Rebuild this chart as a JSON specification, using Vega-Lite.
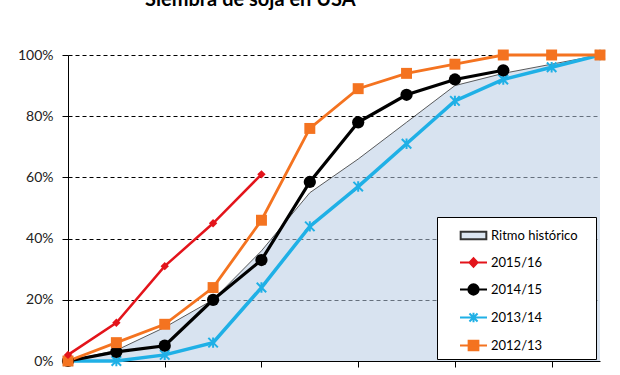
{
  "$schema": "https://vega.github.io/schema/vega-lite/v6.json",
  "width": 532,
  "height": 306,
  "autosize": {"type": "none"},
  "padding": {"left": 68, "top": 55, "right": 20, "bottom": 14},
  "background": "white",
  "title": {
    "text": "Siembra de soja en USA",
    "anchor": "start",
    "frame": "group",
    "dx": 77,
    "offset": 20,
    "baseline": "alphabetic",
    "font": "Lato",
    "fontSize": 20,
    "fontWeight": "bold",
    "color": "#000"
  },
  "config": {
    "view": {"stroke": null},
    "font": "Lato",
    "legend": {
      "orient": "none",
      "legendX": 369,
      "legendY": 162,
      "padding": 4,
      "rowPadding": 4,
      "symbolSize": 729,
      "symbolOffset": 18,
      "symbolOpacity": 1,
      "symbolStrokeWidth": 2,
      "labelOffset": 3,
      "labelFont": "Lato",
      "labelFontSize": 13,
      "labelColor": "#000",
      "titleOrient": "right",
      "titlePadding": 14,
      "strokeColor": "#000",
      "fillColor": "#fff",
      "cornerRadius": 0
    }
  },
  "data": {
    "values": [
      {"s": "Ritmo histórico", "i": 0, "v": 0},
      {"s": "Ritmo histórico", "i": 1, "v": 0.035},
      {"s": "Ritmo histórico", "i": 2, "v": 0.11},
      {"s": "Ritmo histórico", "i": 3, "v": 0.2},
      {"s": "Ritmo histórico", "i": 4, "v": 0.36},
      {"s": "Ritmo histórico", "i": 5, "v": 0.55},
      {"s": "Ritmo histórico", "i": 6, "v": 0.66},
      {"s": "Ritmo histórico", "i": 7, "v": 0.78},
      {"s": "Ritmo histórico", "i": 8, "v": 0.9},
      {"s": "Ritmo histórico", "i": 9, "v": 0.94},
      {"s": "Ritmo histórico", "i": 10, "v": 0.97},
      {"s": "Ritmo histórico", "i": 11, "v": 1.0},
      {"s": "2013/14", "i": 0, "v": 0},
      {"s": "2013/14", "i": 1, "v": 0},
      {"s": "2013/14", "i": 2, "v": 0.02},
      {"s": "2013/14", "i": 3, "v": 0.06},
      {"s": "2013/14", "i": 4, "v": 0.24},
      {"s": "2013/14", "i": 5, "v": 0.44},
      {"s": "2013/14", "i": 6, "v": 0.57},
      {"s": "2013/14", "i": 7, "v": 0.71},
      {"s": "2013/14", "i": 8, "v": 0.85},
      {"s": "2013/14", "i": 9, "v": 0.92},
      {"s": "2013/14", "i": 10, "v": 0.96},
      {"s": "2013/14", "i": 11, "v": 1.0},
      {"s": "2014/15", "i": 0, "v": 0},
      {"s": "2014/15", "i": 1, "v": 0.03},
      {"s": "2014/15", "i": 2, "v": 0.05},
      {"s": "2014/15", "i": 3, "v": 0.2},
      {"s": "2014/15", "i": 4, "v": 0.33},
      {"s": "2014/15", "i": 5, "v": 0.585},
      {"s": "2014/15", "i": 6, "v": 0.78},
      {"s": "2014/15", "i": 7, "v": 0.87},
      {"s": "2014/15", "i": 8, "v": 0.92},
      {"s": "2014/15", "i": 9, "v": 0.95},
      {"s": "2012/13", "i": 0, "v": 0},
      {"s": "2012/13", "i": 1, "v": 0.06},
      {"s": "2012/13", "i": 2, "v": 0.12},
      {"s": "2012/13", "i": 3, "v": 0.24},
      {"s": "2012/13", "i": 4, "v": 0.46},
      {"s": "2012/13", "i": 5, "v": 0.76},
      {"s": "2012/13", "i": 6, "v": 0.89},
      {"s": "2012/13", "i": 7, "v": 0.94},
      {"s": "2012/13", "i": 8, "v": 0.97},
      {"s": "2012/13", "i": 9, "v": 1.0},
      {"s": "2012/13", "i": 10, "v": 1.0},
      {"s": "2012/13", "i": 11, "v": 1.0},
      {"s": "2015/16", "i": 0, "v": 0.02},
      {"s": "2015/16", "i": 1, "v": 0.125},
      {"s": "2015/16", "i": 2, "v": 0.31},
      {"s": "2015/16", "i": 3, "v": 0.45},
      {"s": "2015/16", "i": 4, "v": 0.61}
    ]
  },
  "encoding": {
    "x": {
      "field": "i",
      "type": "quantitative",
      "scale": {"domain": [0, 11], "nice": false, "zero": false},
      "axis": {
        "title": null,
        "values": [2, 4, 6, 8, 10],
        "labels": false,
        "grid": false,
        "domainColor": "#000",
        "tickColor": "#000",
        "tickSize": 6,
        "domainWidth": 1
      }
    },
    "y": {
      "field": "v",
      "type": "quantitative",
      "scale": {"domain": [0, 1], "nice": false},
      "axis": {
        "title": null,
        "values": [0, 0.2, 0.4, 0.6, 0.8, 1],
        "format": ".0%",
        "grid": true,
        "gridDash": [4, 3],
        "gridColor": "#000",
        "gridOpacity": 1,
        "gridWidth": 1,
        "domainColor": "#000",
        "tickColor": "#000",
        "tickSize": 6,
        "labelPadding": 9,
        "labelFont": "Lato",
        "labelFontSize": 14,
        "labelColor": "#222"
      }
    }
  },
  "layer": [
    {
      "transform": [{"filter": "datum.s === 'Ritmo histórico'"}],
      "mark": {"type": "area", "color": "#b8cce4", "fillOpacity": 0.55}
    },
    {
      "transform": [{"filter": "datum.s === 'Ritmo histórico'"}],
      "mark": {"type": "line", "color": "#333", "strokeWidth": 0.8}
    },
    {
      "transform": [{"filter": "datum.s !== 'Ritmo histórico'"}],
      "mark": {"type": "line"},
      "encoding": {
        "color": {
          "field": "s",
          "type": "nominal",
          "scale": {
            "domain": ["2013/14", "2014/15", "2012/13", "2015/16"],
            "range": ["#1fb0e6", "#000000", "#f47320", "#e3141b"]
          },
          "legend": null
        },
        "strokeWidth": {
          "field": "s",
          "type": "nominal",
          "scale": {
            "domain": ["2013/14", "2014/15", "2012/13", "2015/16"],
            "range": [3.5, 2.5, 3.5, 2]
          },
          "legend": null
        }
      }
    },
    {
      "transform": [{"filter": "datum.s === '2013/14'"}],
      "mark": {"type": "point", "shape": "M-1,-1L1,1M-1,1L1,-1M0,-1.1L0,1.1", "filled": false, "stroke": "#1fb0e6", "strokeWidth": 2, "size": 90, "opacity": 1}
    },
    {
      "transform": [{"filter": "datum.s === '2014/15'"}],
      "mark": {"type": "point", "shape": "circle", "filled": true, "fill": "#000", "size": 150, "opacity": 1}
    },
    {
      "transform": [{"filter": "datum.s === '2012/13'"}],
      "mark": {"type": "point", "shape": "square", "filled": true, "fill": "#f47320", "size": 120, "opacity": 1}
    },
    {
      "transform": [{"filter": "datum.s === '2015/16'"}],
      "mark": {"type": "point", "shape": "diamond", "filled": true, "fill": "#e3141b", "size": 70, "opacity": 1}
    },
    {
      "mark": {"type": "point", "opacity": 0, "strokeWidth": 2},
      "encoding": {
        "shape": {
          "field": "s",
          "type": "nominal",
          "scale": {
            "domain": ["Ritmo histórico", "2015/16", "2014/15", "2013/14", "2012/13"],
            "range": [
              "M-0.95,-0.27H0.95V0.27H-0.95Z",
              "M-1,0H1M0,-0.32L0.3,0L0,0.32L-0.3,0Z",
              "M-1,0H1M-0.38,0A0.38,0.38 0 1,0 0.38,0A0.38,0.38 0 1,0 -0.38,0Z",
              "M-1,0H1M-0.3,-0.3L0.3,0.3M-0.3,0.3L0.3,-0.3M0,-0.36L0,0.36",
              "M-1,0H1M-0.36,-0.36H0.36V0.36H-0.36Z"
            ]
          },
          "legend": {"title": "\u00a0"}
        },
        "fill": {
          "field": "s",
          "type": "nominal",
          "scale": {
            "domain": ["Ritmo histórico", "2015/16", "2014/15", "2013/14", "2012/13"],
            "range": ["#dbe5f1", "#e3141b", "#000000", "#1fb0e6", "#f47320"]
          },
          "legend": {"title": "\u00a0"}
        },
        "stroke": {
          "field": "s",
          "type": "nominal",
          "scale": {
            "domain": ["Ritmo histórico", "2015/16", "2014/15", "2013/14", "2012/13"],
            "range": ["#333333", "#e3141b", "#000000", "#1fb0e6", "#f47320"]
          },
          "legend": {"title": "\u00a0"}
        }
      }
    }
  ]
}
